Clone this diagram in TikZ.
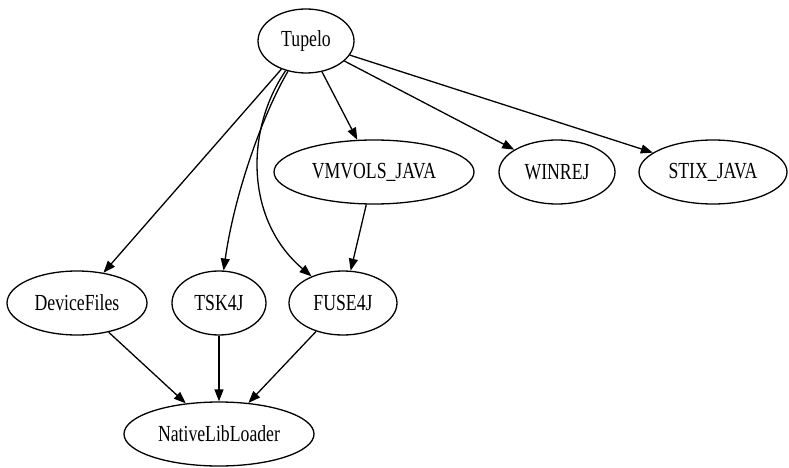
\documentclass[tikz,border=0pt]{standalone}
\usepackage{fontspec}
\setmainfont[FakeStretch=0.77]{Liberation Serif}
\usetikzlibrary{arrows.meta,shapes.geometric}
\begin{document}
\begin{tikzpicture}[x=1pt,y=-1pt,
  vertex/.style={draw,ellipse,line width=1.3pt,inner sep=0pt,minimum height=64pt,
    font=\fontsize{23}{27}\selectfont},
  edge/.style={draw,line width=1.3pt,-{Triangle[length=12pt,width=9pt]}}]
\useasboundingbox (0,0) rectangle (789,468);
% nodes
\node[vertex,minimum width=96pt]  (tupelo) at (306,41)  {Tupelo};
\node[vertex,minimum width=200pt] (vmvols) at (374,172) {VMVOLS\_JAVA};
\node[vertex,minimum width=116pt] (winrej) at (557,172) {WINREJ};
\node[vertex,minimum width=148pt] (stix)   at (713,172) {STIX\_JAVA};
\node[vertex,minimum width=140pt] (devf)   at (77,303)  {DeviceFiles};
\node[vertex,minimum width=94pt]  (tsk)    at (219,303) {TSK4J};
\node[vertex,minimum width=108pt] (fuse)   at (343,303) {FUSE4J};
\node[vertex,minimum width=190pt] (nll)    at (219,434) {NativeLibLoader};
% edges
\draw[edge] (tupelo) -- (devf);
\draw[edge] (tupelo) .. controls (265,110) and (235,190) .. (tsk);
\draw[edge] (tupelo) .. controls (245,130) and (245,220) .. (fuse);
\draw[edge] (tupelo) -- (vmvols);
\draw[edge] (tupelo) -- (winrej);
\draw[edge] (tupelo) -- (stix);
\draw[edge] (vmvols) -- (fuse);
\draw[edge] (devf) -- (nll);
\draw[edge] (tsk) -- (nll);
\draw[edge] (fuse) -- (nll);
\end{tikzpicture}
\end{document}
